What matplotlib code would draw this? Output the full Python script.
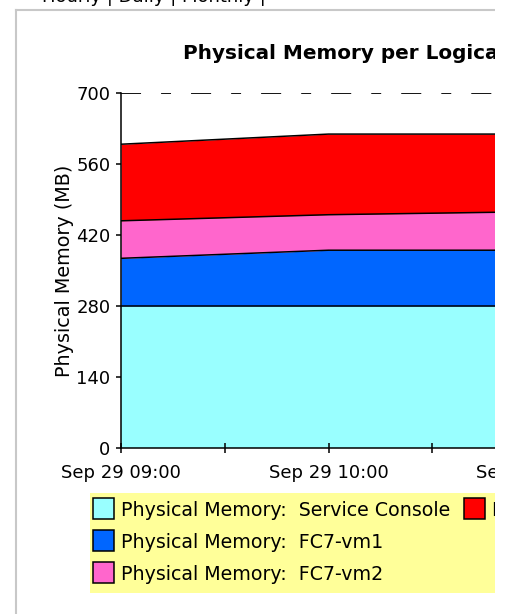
import numpy as np
import pandas as pd
import matplotlib
matplotlib.use('Agg')
import matplotlib.pyplot as plt
import matplotlib.dates as mdates
from matplotlib.patches import Rectangle
from matplotlib.lines import Line2D

# --- Data ---
times = pd.to_datetime(['2007-09-29 09:00', '2007-09-29 10:00', '2007-09-29 11:00'])
service_console = [280, 280, 280]
fc7_vm1 = [94, 110, 110]
fc7_vm2 = [74, 70, 76]
fc7_vm3 = [151, 159, 153]
series_names = ['Physical Memory:  Service Console', 'Physical Memory:  FC7-vm1',
                'Physical Memory:  FC7-vm2', 'Physical Memory:  FC7-vm3']
series_colors = ['#99FFFF', '#0066FF', '#FF66CC', '#FF0000']
y_ticks = [0, 140, 280, 420, 560, 700]
capacity = 700

W, H = 509, 614
fig = plt.figure(figsize=(W / 100, H / 100), dpi=100)
fig.patch.set_facecolor('white')


def fx(x):
    return x / W


def fy(y):
    return 1 - y / H


# --- Stacked area chart ---
ax = fig.add_axes([fx(121), fy(448), fx(536) - fx(121), fy(93) - fy(448)])
bottom = np.zeros(len(times))
for vals, color in zip([service_console, fc7_vm1, fc7_vm2, fc7_vm3], series_colors):
    top = bottom + np.array(vals)
    ax.fill_between(times, bottom, top, color=color, lw=0)
    ax.plot(times, top, color='black', lw=1.1)
    bottom = top

# capacity line at the top of the scale
ax.axhline(capacity, color='black', lw=1.3, dashes=(11.1, 11.1, 5.5, 11.1))

ax.set_xlim(times[0], times[-1])
ax.set_ylim(0, capacity)
ax.set_yticks(y_ticks)
ax.spines['top'].set_visible(False)
ax.spines['right'].set_visible(False)
ax.spines['left'].set_linewidth(1.1)
ax.spines['bottom'].set_linewidth(1.1)
ax.xaxis.set_major_locator(mdates.HourLocator())
ax.xaxis.set_minor_locator(mdates.MinuteLocator(byminute=[30]))
ax.xaxis.set_major_formatter(mdates.DateFormatter('%b %d %H:%M'))
ax.tick_params(axis='x', which='both', direction='inout', length=7, width=1.1, pad=8, labelsize=13)
ax.tick_params(axis='y', direction='out', length=3.5, width=1.1, pad=4, labelsize=13)
ax.set_ylabel('Physical Memory (MB)', fontsize=13.8, labelpad=2)

fig.text(fx(183), fy(59), 'Physical Memory per Logical Server', fontsize=14.4,
         weight='bold', va='baseline')

# --- Legend box ---
fig.patches.append(Rectangle((fx(90), fy(593)), 1 - fx(90), 100 / H, transform=fig.transFigure,
                             facecolor='#FFFF99', edgecolor='none', zorder=1))
legend_pos = [(93, 509), (93, 541), (93, 573), (464, 509)]
for (x, yc), name, color in zip(legend_pos, series_names, series_colors):
    fig.patches.append(Rectangle((fx(x), fy(yc + 10)), 21 / W, 21 / H, transform=fig.transFigure,
                                 facecolor=color, edgecolor='black', lw=1.1, zorder=2))
    fig.text(fx(x + 28), fy(yc + 1), name, fontsize=13.7, va='center', zorder=3)

# --- Page frame and tabs (cropped) ---
fig.lines.append(Line2D([fx(16), fx(495)], [fy(10), fy(10)], transform=fig.transFigure,
                        color='#C8C8C8', lw=1.5))
fig.lines.append(Line2D([fx(16), fx(16)], [fy(10), 0], transform=fig.transFigure,
                        color='#C8C8C8', lw=1.5))
fig.text(fx(266), fy(2), 'Hourly | Daily | Monthly |', fontsize=13, ha='right', va='baseline')

# white area where the screenshot is cut off
fig.patches.append(Rectangle((fx(495), 0), 1 - fx(495), 1, transform=fig.transFigure,
                             facecolor='white', edgecolor='none', zorder=100))

fig.savefig('out.png', dpi=100)
